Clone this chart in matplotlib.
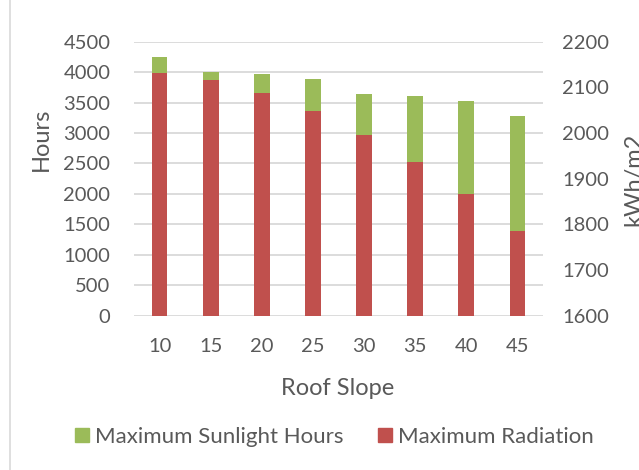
import numpy as np
import matplotlib
matplotlib.use("Agg")
from matplotlib import pyplot as plt
from matplotlib.patches import Patch
from matplotlib.lines import Line2D

# data
slopes = ["10", "15", "20", "25", "30", "35", "40", "45"]
sunlight_hours = [4254, 4007, 3970, 3887, 3641, 3603, 3526, 3275]
radiation = [2132, 2117, 2088, 2049, 1996, 1936, 1866, 1785]

hours_ticks = list(range(0, 4501, 500))
rad_ticks = list(range(1600, 2201, 100))

green = "#9BBB59"
red = "#C0504D"
txt = "#595959"
grid = "#D9D9D9"

plt.rcParams['font.family'] = ['Lato', 'DejaVu Sans']

fig = plt.figure(figsize=(6.39, 4.70), dpi=100)
ax = fig.add_axes([134/639, 1-315.7/470, (543-134)/639, (315.7-41.7)/470])
ax2 = ax.twinx()

x = np.arange(len(slopes))
w = 0.31
ax.bar(x, sunlight_hours, w, color=green, zorder=2)
ax2.bar(x, radiation, w, color=red, zorder=2)

ax.set_ylim(0, 4500)
ax2.set_ylim(1600, 2200)
ax.set_xlim(-0.5, len(slopes)-0.5)
ax.set_yticks(hours_ticks)
ax2.set_yticks(rad_ticks)
ax.set_xticks(x)
ax.set_xticklabels(slopes)
for t in hours_ticks:
    ax.axhline(t, color=grid, lw=1.3, zorder=0)

for a in (ax, ax2):
    for s in a.spines.values():
        s.set_visible(False)
    a.tick_params(length=0, colors=txt, labelsize=14.5)
ax.tick_params(axis='y', pad=17)
ax.tick_params(axis='x', pad=16)
ax2.tick_params(axis='y', pad=14)

fig.text(41/639, 1-139/470, "Hours", rotation=90, ha='center', va='center', fontsize=17, color=txt)
fig.text(634/639, 1-179/470, "kWh/m2", rotation=90, ha='center', va='center', fontsize=17, color=txt)
fig.text(338/639, 1-395/470, "Roof Slope", ha='center', va='baseline', fontsize=17, color=txt)

handles = [Patch(color=green), Patch(color=red)]
fig.legend(handles, ["Maximum Sunlight Hours", "Maximum Radiation"], loc='center',
           bbox_to_anchor=(334.5/639, 1-437/470), ncol=2, frameon=False, fontsize=16,
           labelcolor=txt, handlelength=0.62, handleheight=0.62, handletextpad=0.28,
           columnspacing=1.55, borderpad=0, borderaxespad=0)

fig.add_artist(Line2D([10/639, 10/639], [0, 1], color=grid, lw=1.2, transform=fig.transFigure))

fig.savefig("out.png", dpi=100)
